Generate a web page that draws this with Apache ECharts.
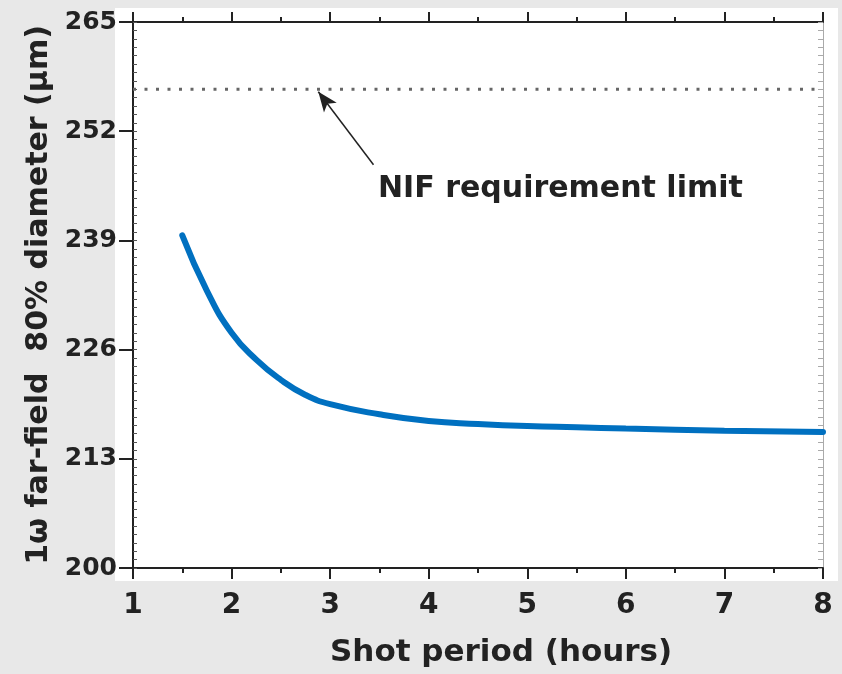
<!DOCTYPE html>
<html>
<head>
<meta charset="utf-8">
<script src="https://cdn.jsdelivr.net/npm/echarts@6/dist/echarts.min.js"></script>
<style>
  html, body { margin: 0; padding: 0; background: #e8e8e8; }
  #chart { width: 842px; height: 674px; }
</style>
</head>
<body>
<div id="chart"></div>
<script>
// shot period (hours) vs 1w far-field 80% diameter (um)
const hours = [1.5, 1.75, 2.0, 2.25, 2.5, 2.75, 3.0, 3.5, 4.0, 4.5, 5.0, 5.5, 6.0, 7.0, 8.0];
const diameter = [239.6, 233.0, 228.0, 224.8, 222.4, 220.6, 219.5, 218.3, 217.5, 217.15, 216.9, 216.75, 216.6, 216.35, 216.2];

// NIF requirement limit (dotted line) and arrow pointing at it
const limitHours = [1, 8];
const limitValue = 257;
const arrowFrom = [3.44, 248];
const arrowTo = [2.88, 256.7];

const xMin = 1, xMax = 8;
const yMin = 200, yMax = 265, yStep = 13;

const font = "DejaVu Sans";
const ink = "#222";

const chart = echarts.init(document.getElementById("chart"));

const option = {
  backgroundColor: "#e8e8e8",
  animation: false,
  grid: { left: 133, right: 19, top: 22, bottom: 106 },
  graphic: [
    {
      type: "rect",
      z: -10,
      shape: { x: 115, y: 8, width: 723, height: 573 },
      style: { fill: "#fff" }
    },
    {
      type: "text",
      left: 330,
      top: 637,
      style: {
        text: "Shot period (hours)",
        font: "bold 31px " + font,
        fill: ink
      }
    },
    {
      type: "text",
      left: 378,
      top: 174,
      style: {
        text: "NIF requirement limit",
        font: "bold 30px " + font,
        fill: ink
      }
    }
  ],
  xAxis: [
    {
      type: "value",
      position: "bottom",
      min: xMin,
      max: xMax,
      interval: 1,
      splitLine: { show: false },
      axisLine: { lineStyle: { color: ink, width: 2 } },
      axisTick: { length: 11, lineStyle: { color: ink, width: 2 } },
      minorTick: { show: true, splitNumber: 2, length: 5, lineStyle: { color: ink, width: 2 } },
      axisLabel: { margin: 24, color: ink, fontFamily: font, fontWeight: "bold", fontSize: 28 }
    },
    {
      type: "value",
      position: "top",
      min: xMin,
      max: xMax,
      interval: 1,
      splitLine: { show: false },
      axisLine: { lineStyle: { color: ink, width: 2 } },
      axisTick: { length: 10, lineStyle: { color: ink, width: 2 } },
      minorTick: { show: true, splitNumber: 2, length: 5, lineStyle: { color: ink, width: 2 } },
      axisLabel: { show: false }
    }
  ],
  yAxis: [
    {
      type: "value",
      position: "left",
      min: yMin,
      max: yMax,
      interval: yStep,
      splitLine: { show: false },
      axisLine: { lineStyle: { color: ink, width: 2 } },
      axisTick: { length: 14, lineStyle: { color: ink, width: 2 } },
      axisLabel: { margin: 16, color: ink, fontFamily: font, fontWeight: "bold", fontSize: 25 },
      name: "1\u03c9 far-field  80% diameter (\u03bcm)",
      nameLocation: "middle",
      nameGap: 76,
      nameTextStyle: { color: ink, fontFamily: font, fontWeight: "bold", fontSize: 30 }
    },
    {
      type: "value",
      position: "left",
      min: yMin,
      max: yMax,
      interval: 1,
      splitLine: { show: false },
      axisLine: { show: false },
      axisTick: { inside: true, length: 4, lineStyle: { color: "#555", width: 1 } },
      axisLabel: { show: false }
    },
    {
      type: "value",
      position: "right",
      min: yMin,
      max: yMax,
      interval: 1,
      splitLine: { show: false },
      axisLine: { lineStyle: { color: "#aaa", width: 1 } },
      axisTick: { inside: true, length: 5, lineStyle: { color: "#aaa", width: 1 } },
      axisLabel: { show: false }
    }
  ],
  series: [
    {
      type: "line",
      data: limitHours.map(h => [h, limitValue]),
      symbol: "none",
      lineStyle: { color: "#666", width: 3, type: [3, 8.5] },
      markLine: {
        silent: true,
        symbol: ["none", "arrow"],
        symbolSize: [12, 20],
        label: { show: false },
        lineStyle: { color: "#222", width: 1.5, type: "solid" },
        data: [[{ coord: arrowFrom }, { coord: arrowTo }]]
      }
    },
    {
      type: "line",
      data: hours.map((h, i) => [h, diameter[i]]),
      smooth: true,
      symbol: "none",
      lineStyle: { color: "#0070c0", width: 6, cap: "round" }
    }
  ]
};

chart.setOption(option);
</script>
</body>
</html>
